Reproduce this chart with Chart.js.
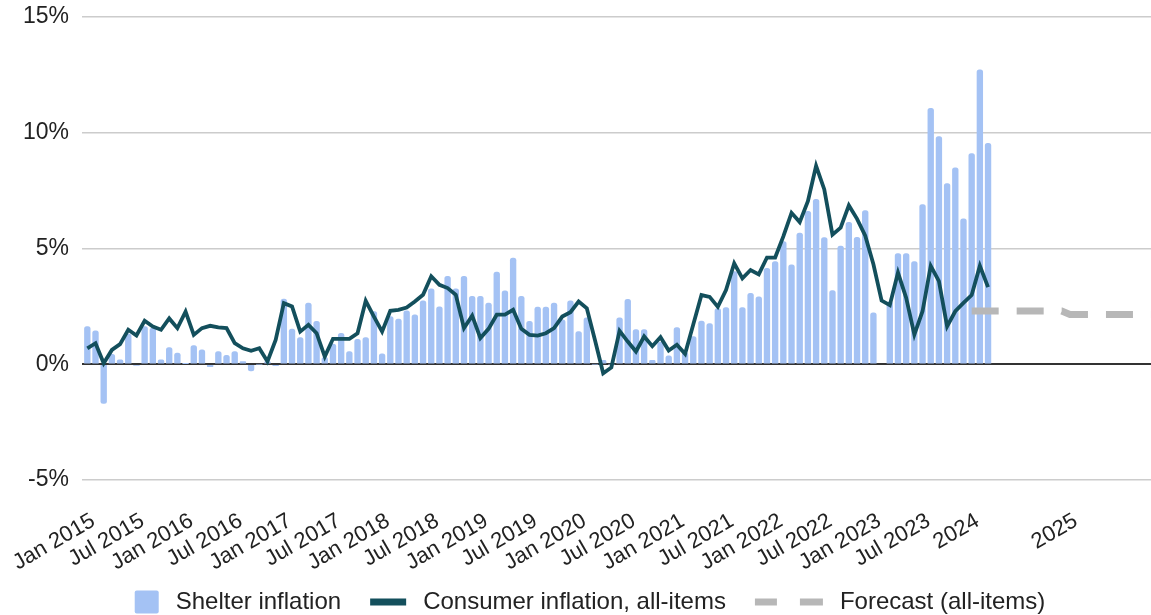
<!DOCTYPE html>
<html>
<head>
<meta charset="utf-8">
<script src="https://cdn.jsdelivr.net/npm/chart.js@4.4.1/dist/chart.umd.min.js"></script>
<style>
  html, body { margin: 0; padding: 0; background: #ffffff; }
  #wrap { position: relative; width: 1151px; height: 615px; }
</style>
</head>
<body>
<div id="wrap"><canvas id="chart" width="1151" height="615"></canvas></div>
<script>
// ---------------- data ----------------
const monthNames = ['Jan','Feb','Mar','Apr','May','Jun','Jul','Aug','Sep','Oct','Nov','Dec'];
const firstYear = 2015;
const lastYear = 2025;
const lastMonthOfLastYear = 11; // Nov 2025 is the last category on the axis

// monthly categories Jan 2015 .. Nov 2025
const categories = [];
for (let y = firstYear; y <= lastYear; y++) {
  for (let m = 0; m < 12; m++) {
    if (y === lastYear && m >= lastMonthOfLastYear) break;
    categories.push(monthNames[m] + ' ' + y);
  }
}

// Shelter inflation (%), Jan 2015 .. Mar 2024
const shelterInflation = [
  1.63, 1.44, -1.69, 0.43, 0.19, 1.30, -0.05, 1.63, 1.56, 0.19, 0.72, 0.48,
  0.02, 0.81, 0.62, -0.10, 0.55, 0.38, 0.55, 0.12, -0.29, 0.00, 0.10, -0.06,
  2.81, 1.52, 1.15, 2.64, 1.85, 0.30, 0.87, 1.34, 0.55, 1.08, 1.15, 2.28,
  0.45, 2.06, 1.95, 2.31, 2.14, 2.74, 3.26, 2.48, 3.80, 3.26, 3.80, 2.93,
  2.93, 2.64, 3.98, 3.17, 4.59, 2.93, 1.85, 2.47, 2.47, 2.64, 1.92, 2.74,
  1.41, 2.00, 0.00, 0.17, 0.00, 2.01, 2.80, 1.50, 1.50, 0.17, 0.95, 0.36,
  1.58, 0.50, 1.20, 1.86, 1.76, 2.41, 2.45, 4.00, 2.45, 3.06, 2.91, 4.14,
  4.43, 5.30, 4.29, 5.67, 6.61, 7.12, 5.47, 3.18, 5.10, 6.13, 5.48, 6.64,
  2.22, null, 2.70, 4.78, 4.78, 4.43, 6.90, 11.06, 9.83, 7.80, 8.49, 6.28,
  9.10, 12.72, 9.54
];

// Consumer inflation, all-items (%), Jan 2015 .. Mar 2024
const consumerInflation = [
  0.69, 0.91, 0.04, 0.62, 0.87, 1.49, 1.24, 1.88, 1.63, 1.49, 1.98, 1.56,
  2.27, 1.27, 1.56, 1.66, 1.59, 1.56, 0.91, 0.69, 0.58, 0.69, 0.12, 1.05,
  2.64, 2.50, 1.41, 1.70, 1.34, 0.33, 1.10, 1.10, 1.10, 1.34, 2.74, 2.06,
  1.41, 2.31, 2.35, 2.45, 2.71, 3.00, 3.80, 3.43, 3.29, 3.00, 1.56, 2.10,
  1.13, 1.53, 2.14, 2.14, 2.35, 1.53, 1.27, 1.24, 1.34, 1.56, 2.06, 2.25,
  2.71, 2.42, 1.04, -0.39, -0.14, 1.44, 0.98, 0.55, 1.20, 0.78, 1.17, 0.59,
  0.84, 0.45, 1.72, 2.99, 2.91, 2.48, 3.20, 4.36, 3.71, 4.07, 3.88, 4.61,
  4.61, 5.52, 6.54, 6.14, 7.04, 8.57, 7.55, 5.60, 5.90, 6.86, 6.28, 5.55,
  4.32, 2.75, 2.55, 3.96, 2.87, 1.28, 2.29, 4.25, 3.59, 1.64, 2.29, 2.65,
  2.99, 4.25, 3.33
];

// Forecast (all-items) (%), Jan 2024 .. Nov 2025
const forecastStartMonth = 'Jan 2024';
const forecastAllItems = [
  2.30, 2.30, 2.30, 2.30, 2.30, 2.30, 2.30, 2.30, 2.30, 2.30, 2.30, 2.30,
  2.15, 2.15, 2.15, 2.15, 2.15, 2.15, 2.15, 2.15, 2.15, 2.15, 2.15
];

// x-axis tick labels (month category -> shown text)
const tickMonths = [
  'Jan 2015','Jul 2015','Jan 2016','Jul 2016','Jan 2017','Jul 2017','Jan 2018','Jul 2018',
  'Jan 2019','Jul 2019','Jan 2020','Jul 2020','Jan 2021','Jul 2021','Jan 2022','Jul 2022',
  'Jan 2023','Jul 2023','Jan 2024','Jan 2025'
];
const tickLabels = [
  'Jan 2015','Jul 2015','Jan 2016','Jul 2016','Jan 2017','Jul 2017','Jan 2018','Jul 2018',
  'Jan 2019','Jul 2019','Jan 2020','Jul 2020','Jan 2021','Jul 2021','Jan 2022','Jul 2022',
  'Jan 2023','Jul 2023','2024','2025'
];
const yTickValues = [-5, 0, 5, 10, 15];

const seriesNames = ['Shelter inflation', 'Consumer inflation, all-items', 'Forecast (all-items)'];

// ---------------- build ----------------
const FONT = "'Liberation Sans', Arial, Helvetica, sans-serif";
const COLORS = { shelter: '#a4c2f4', cpi: '#134f5c', forecast: '#b7b7b7', grid: '#cccccc', zero: '#333333', text: '#222222' };

const toPoints = (values, startIndex) => values.map((v, i) => ({ x: startIndex + i, y: v }));
const forecastStart = categories.indexOf(forecastStartMonth);

const legendPlugin = {
  id: 'bottomLegend',
  afterDraw(chart) {
    const ctx = chart.ctx;
    const ds = chart.data.datasets;
    const cy = 602;
    const gapText = 17, gapItem = 29;
    ctx.save();
    ctx.font = '24px ' + FONT;
    ctx.textBaseline = 'middle';
    const items = [
      { w: 24, label: ds[0].label, draw: (x) => { ctx.fillStyle = ds[0].backgroundColor; ctx.beginPath(); ctx.roundRect(x, cy - 11.5, 24, 23, 2); ctx.fill(); } },
      { w: 36, label: ds[1].label, draw: (x) => { ctx.fillStyle = ds[1].borderColor; ctx.fillRect(x, cy - 3.5, 36, 7); } },
      { w: 68, label: ds[2].label, draw: (x) => { ctx.fillStyle = ds[2].borderColor; ctx.fillRect(x, cy - 3.5, 22, 7); ctx.fillRect(x + 45, cy - 3.5, 23, 7); } }
    ];
    let total = 0;
    items.forEach((it, i) => { it.tw = ctx.measureText(it.label).width; total += it.w + gapText + it.tw + (i ? gapItem : 0); });
    let x = 590 - total / 2;
    items.forEach((it) => {
      it.draw(x);
      ctx.fillStyle = COLORS.text;
      ctx.fillText(it.label, x + it.w + gapText, cy);
      x += it.w + gapText + it.tw + gapItem;
    });
    ctx.restore();
  }
};

Chart.defaults.font.family = FONT;
Chart.defaults.color = COLORS.text;

new Chart(document.getElementById('chart'), {
  type: 'bar',
  data: {
    datasets: [
      {
        type: 'bar',
        label: seriesNames[0],
        data: toPoints(shelterInflation, 0),
        backgroundColor: COLORS.shelter,
        barThickness: 5.7,
        borderRadius: 2.5,
        order: 3
      },
      {
        type: 'line',
        label: seriesNames[1],
        data: toPoints(consumerInflation, 0),
        borderColor: COLORS.cpi,
        backgroundColor: COLORS.cpi,
        borderWidth: 3.8,
        pointRadius: 0,
        tension: 0,
        order: 1
      },
      {
        type: 'line',
        label: seriesNames[2],
        data: toPoints(forecastAllItems, forecastStart),
        borderColor: COLORS.forecast,
        backgroundColor: COLORS.forecast,
        borderWidth: 7,
        borderDash: [27, 18],
        borderCapStyle: 'butt',
        pointRadius: 0,
        tension: 0,
        order: 2
      }
    ]
  },
  options: {
    responsive: false,
    animation: false,
    layout: { padding: { top: 17, right: 0, bottom: 40, left: 0 } },
    plugins: { legend: { display: false }, tooltip: { enabled: false } },
    scales: {
      x: {
        type: 'linear',
        offset: false,
        min: -0.65,
        max: 129.9,
        grid: { display: false, offset: false },
        border: { display: false },
        afterBuildTicks: (axis) => {
          axis.ticks = tickMonths.map(m => ({ value: categories.indexOf(m) }));
        },
        afterFit: (axis) => {
          axis.height = 95;
          axis.paddingLeft = 0;
          axis.paddingRight = 0;
        },
        ticks: {
          autoSkip: false,
          minRotation: 30,
          maxRotation: 30,
          padding: 20,
          labelOffset: 6,
          font: { size: 22 },
          color: COLORS.text,
          callback: (value) => tickLabels[tickMonths.indexOf(categories[value])]
        }
      },
      y: {
        min: -5,
        max: 15,
        afterBuildTicks: (axis) => { axis.ticks = yTickValues.map(v => ({ value: v })); },
        afterFit: (axis) => {
          axis.width = 82;
          axis.paddingTop = 0;
          axis.paddingBottom = 0;
        },
        border: { display: false },
        grid: {
          drawTicks: false,
          color: (c) => c.tick && c.tick.value === 0 ? COLORS.zero : COLORS.grid,
          lineWidth: (c) => c.tick && c.tick.value === 0 ? 2 : 1.5
        },
        ticks: {
          padding: 13,
          font: { size: 23 },
          color: COLORS.text,
          callback: (v) => v + '%'
        }
      }
    }
  },
  plugins: [legendPlugin]
});
</script>
</body>
</html>
